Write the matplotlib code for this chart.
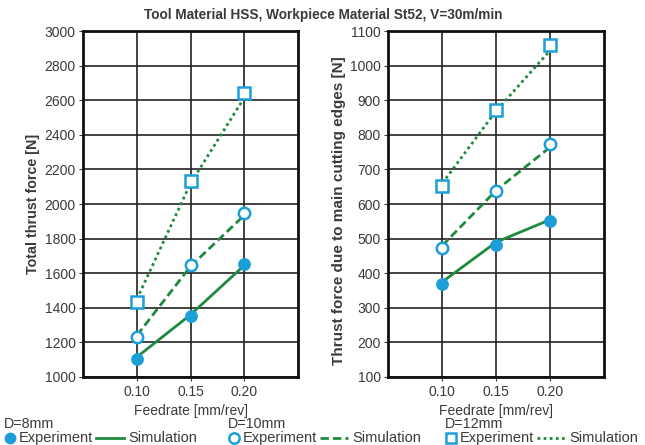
import matplotlib
matplotlib.use("Agg")
import matplotlib.pyplot as plt
from matplotlib.lines import Line2D

plt.rcParams["font.family"] = ["Liberation Sans", "DejaVu Sans"]

# ---- data ----
feed = [0.10, 0.15, 0.20]

# total thrust force [N]
tot_exp_d8 = [1105, 1350, 1655]
tot_sim_d8 = [1115, 1360, 1645]
tot_exp_d10 = [1230, 1645, 1950]
tot_sim_d10 = [1240, 1640, 1935]
tot_exp_d12 = [1435, 2135, 2640]
tot_sim_d12 = [1450, 2120, 2615]

# thrust force due to main cutting edges [N]
main_exp_d8 = [368, 482, 550]
main_sim_d8 = [375, 490, 555]
main_exp_d10 = [473, 637, 773]
main_sim_d10 = [480, 640, 765]
main_exp_d12 = [652, 873, 1060]
main_sim_d12 = [660, 870, 1045]

BLUE = "#1c9fd8"
GREEN = "#1f8a3e"
TXT = "#3a3a3a"

fig = plt.figure(figsize=(6.45, 4.45), dpi=100)
ax1 = fig.add_axes([0.129, 0.153, 0.333, 0.777])
ax2 = fig.add_axes([0.602, 0.153, 0.335, 0.777])

sim_styles = [dict(ls="-"), dict(ls="--", dashes=(3, 1.5)), dict(ls=":", dashes=(1, 1.2))]
exp_styles = [dict(marker="o", mfc=BLUE, mec=BLUE),
              dict(marker="o", mfc="white", mec=BLUE, mew=1.8),
              dict(marker="s", mfc="white", mec=BLUE, mew=1.8)]


def draw(ax, exps, sims):
    for sim, st in zip(sims, sim_styles):
        ax.plot(feed, sim, color=GREEN, lw=2, zorder=3, **st)
    for exp, st in zip(exps, exp_styles):
        ax.plot(feed, exp, ls="", ms=8.2, zorder=4, **st)
    ax.set_xlim(0.05, 0.25)
    ax.set_xticks(feed)
    ax.set_xticklabels(["0.10", "0.15", "0.20"])
    ax.grid(True, color="#222222", lw=1.2)
    ax.set_axisbelow(True)
    for s in ax.spines.values():
        s.set_linewidth(2)
        s.set_color("#111111")
    ax.tick_params(labelsize=10, colors=TXT, length=3, pad=2.5)
    ax.set_xlabel("Feedrate [mm/rev]", fontsize=10, color=TXT, labelpad=4)


draw(ax1, [tot_exp_d8, tot_exp_d10, tot_exp_d12], [tot_sim_d8, tot_sim_d10, tot_sim_d12])
ax1.set_ylim(1000, 3000)
ax1.set_yticks(range(1000, 3001, 200))
ax1.set_ylabel("Total thrust force [N]", fontsize=10.3, fontweight="bold", color=TXT)
ax1.yaxis.set_label_coords(-0.2, 0.5)

draw(ax2, [main_exp_d8, main_exp_d10, main_exp_d12], [main_sim_d8, main_sim_d10, main_sim_d12])
ax2.set_ylim(100, 1100)
ax2.set_yticks(range(100, 1101, 100))
ax2.set_ylabel("Thrust force due to main cutting edges [N]", fontsize=11,
               fontweight="bold", color=TXT)
ax2.yaxis.set_label_coords(-0.198, 0.48)

fig.text(0.501, 1 - 15 / 445, "Tool Material HSS, Workpiece Material St52, V=30m/min",
         ha="center", va="center", fontsize=9.8, fontweight="bold", color=TXT)

# ---- legend (three groups along the bottom) ----
titles = ["D=8mm", "D=10mm", "D=12mm"]
marker_x = [10, 234, 451]          # marker centre of each group, px
W, H = 645.0, 445.0
y_head, y_row = 424, 438
for title, m, est, sst in zip(titles, marker_x, exp_styles, sim_styles):
    fig.text((m - 6) / W, 1 - y_head / H, title, fontsize=10.3, color=TXT, va="center")
    fig.add_artist(Line2D([m / W], [1 - y_row / H], ls="", ms=7.5,
                          transform=fig.transFigure, **est))
    fig.text((m + 9) / W, 1 - y_row / H, "Experiment", fontsize=10.5, color=TXT, va="center")
    fig.add_artist(Line2D([(m + 86) / W, (m + 114) / W], [1 - y_row / H] * 2,
                          color=GREEN, lw=2, transform=fig.transFigure, **sst))
    fig.text((m + 118) / W, 1 - y_row / H, "Simulation", fontsize=10.5, color=TXT, va="center")

fig.savefig("out.png", dpi=100)
